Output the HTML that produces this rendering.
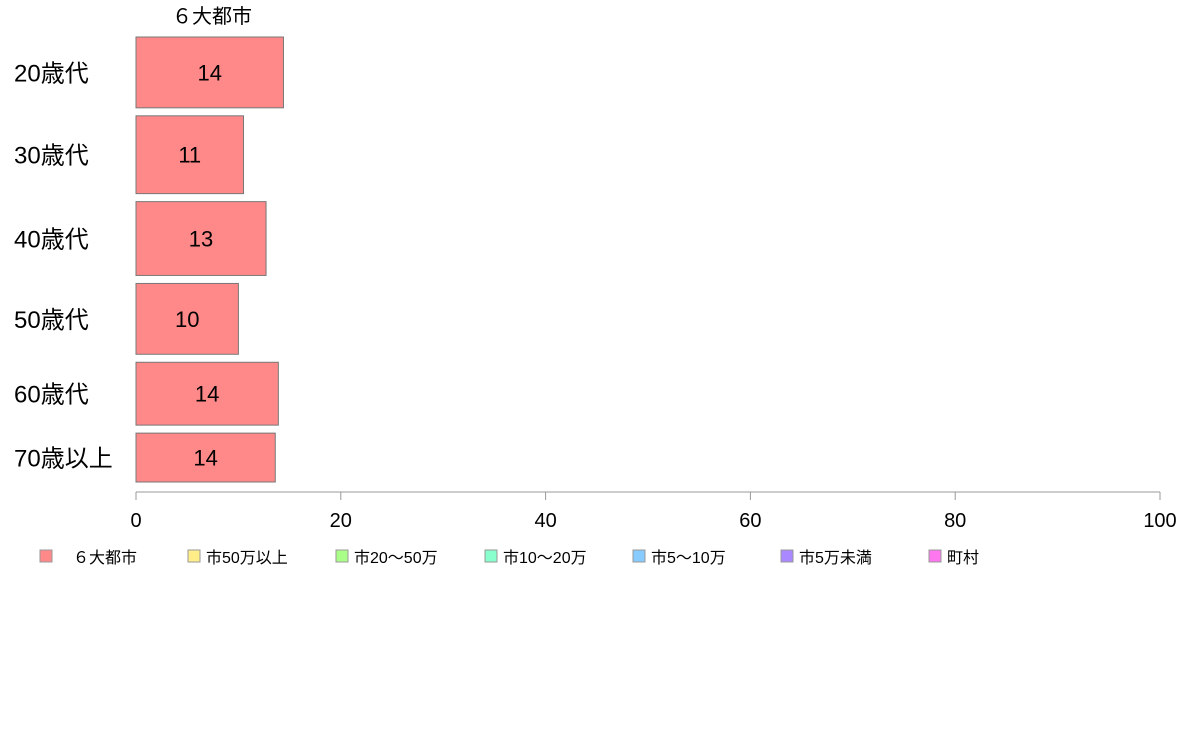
<!DOCTYPE html>
<html><head><meta charset="utf-8"><style>
body{margin:0;background:#fff;width:1188px;height:736px;overflow:hidden;font-family:"Liberation Sans","Noto Sans CJK JP",sans-serif}
</style></head><body>
<svg id="c" width="1188" height="736" xmlns="http://www.w3.org/2000/svg"></svg>
<script>
const categories=["20歳代","30歳代","40歳代","50歳代","60歳代","70歳以上"];
const values=[14.4,10.5,12.7,10.0,13.9,13.6];
const weights=[71,78,74,71,63,49];
const ticks=[0,20,40,60,80,100];
const legendLabels=["６大都市","市50万以上","市20〜50万","市10〜20万","市5〜10万","市5万未満","町村"];
const legendColors=["#ff8888","#ffee88","#aaff88","#88ffcc","#88ccff","#aa88ff","#ff77ee"];
const NS="http://www.w3.org/2000/svg";
const svg=document.getElementById('c');
function mk(t,a,p){const e=document.createElementNS(NS,t);for(const k in a)e.setAttribute(k,a[k]);(p||svg).appendChild(e);return e;}
const x0=136,x1=1160,yTop=37,yBot=482,gap=8;
const xs=v=>x0+(x1-x0)*v/100;
const total=weights.reduce((a,b)=>a+b,0);
const avail=(yBot-yTop)-gap*(weights.length-1);
let t=mk('text',{x:212,y:23,'font-size':20,'text-anchor':'middle',fill:'#000'});t.textContent="６大都市";


let y=yTop;
categories.forEach((c,i)=>{
  const h=avail*weights[i]/total;
  const r=mk('rect',{x:x0,y:y,width:xs(values[i])-x0,height:h,fill:'#ff8888',stroke:'#777','stroke-width':1});
  
  
  const v=mk('text',{x:(x0+xs(values[i]))/2,y:y+h/2+8,'font-size':22,'text-anchor':'middle',fill:'#000'});v.textContent=Math.round(values[i]);
  
  
  const l=mk('text',{x:14,y:y+h/2+9,'font-size':24,fill:'#000'});l.textContent=c;
  
  
  y+=h+gap;
});
const ax=mk('line',{x1:x0,x2:x1,y1:492,y2:492,stroke:'#999','stroke-width':1});


ticks.forEach(v=>{
  const tl=mk('line',{x1:xs(v),x2:xs(v),y1:492,y2:500,stroke:'#999'});
  
  
  const tx=mk('text',{x:xs(v),y:527,'font-size':20,'text-anchor':'middle',fill:'#000'});tx.textContent=v;
  
  
});
const lx=[40,188,336,485,633,781,929];
legendLabels.forEach((s,i)=>{
  const g=mk('g',{});
  
  
  mk('rect',{x:lx[i],y:550,width:12,height:12,fill:legendColors[i],stroke:'#999'},g);
  const tt=mk('text',{x:lx[i]+(i==0?33:18),y:563,'font-size':16,fill:'#000'},g);tt.textContent=s;
});
</script>
</body></html>
